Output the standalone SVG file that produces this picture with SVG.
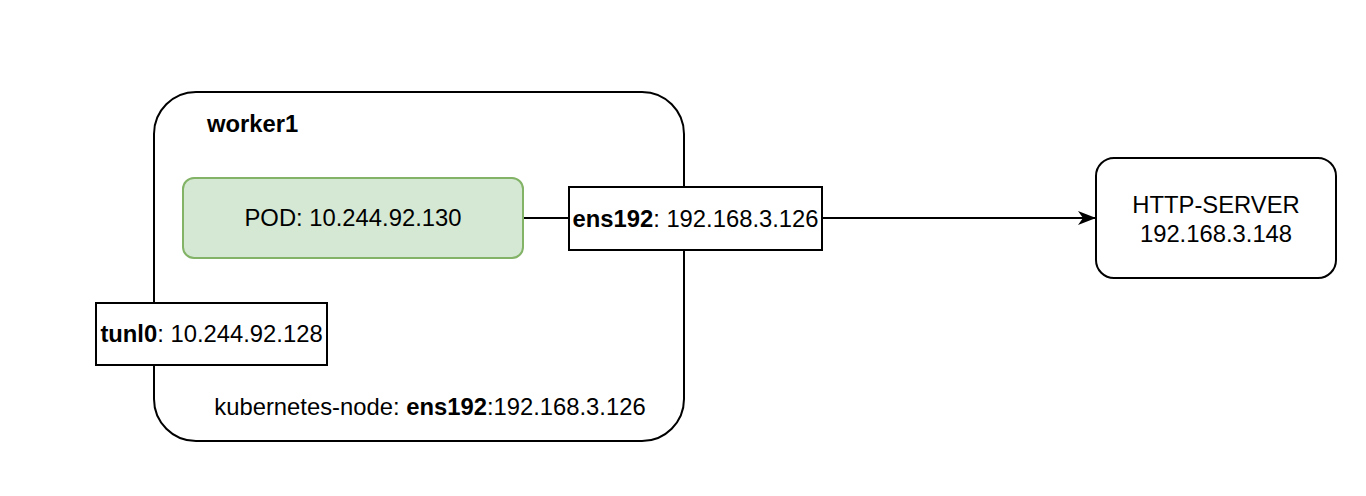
<svg xmlns="http://www.w3.org/2000/svg" width="1366" height="496" viewBox="0 0 1366 496">
  <style>
    .box { fill: #ffffff; stroke: #000000; stroke-width: 2; }
    .pod { fill: #d5e8d4; stroke: #82b366; stroke-width: 2; }
    .lbl { font-family: "Liberation Sans", Arial, Helvetica, sans-serif; font-size: 23.8px; fill: #000000; }
    .mid { text-anchor: middle; }
    .b { font-weight: bold; }
    .edge { fill: none; stroke: #000000; stroke-width: 2; }
  </style>
  <defs>
    <marker id="arrow" viewBox="0 0 18 14" refX="17" refY="7" markerWidth="18" markerHeight="14" markerUnits="userSpaceOnUse" orient="auto">
      <path d="M0,0 L18,7 L0,14 L5,7 Z" fill="#000000"/>
    </marker>
  </defs>

  <!-- worker host container -->
  <g id="worker1">
    <rect class="box" x="154" y="92" width="530" height="349" rx="42" ry="42"/>
    <text class="lbl b" x="207" y="132">worker1</text>
    <text class="lbl mid" x="430" y="415">kubernetes-node: <tspan class="b">ens192</tspan>:192.168.3.126</text>
  </g>

  <!-- connectors -->
  <g id="connectors">
    <line class="edge" x1="523" y1="218" x2="569" y2="218"/>
    <line class="edge" x1="822" y1="218" x2="1095" y2="218" marker-end="url(#arrow)"/>
  </g>

  <g id="pod">
    <rect class="pod" x="183" y="178" width="340" height="80" rx="11" ry="11"/>
    <text class="lbl mid" x="353" y="226">POD: 10.244.92.130</text>
  </g>

  <g id="ens192">
    <rect class="box" x="569" y="187" width="253" height="63"/>
    <text class="lbl mid" x="695.5" y="227"><tspan class="b">ens192</tspan>: 192.168.3.126</text>
  </g>

  <g id="tunl0">
    <rect class="box" x="96" y="303" width="231" height="62"/>
    <text class="lbl mid" x="211.5" y="342"><tspan class="b">tunl0</tspan>: 10.244.92.128</text>
  </g>

  <g id="http-server">
    <rect class="box" x="1096" y="158" width="240" height="120" rx="18" ry="18"/>
    <text class="lbl mid" x="1216" y="213">HTTP-SERVER</text>
    <text class="lbl mid" x="1216" y="242">192.168.3.148</text>
  </g>
</svg>
